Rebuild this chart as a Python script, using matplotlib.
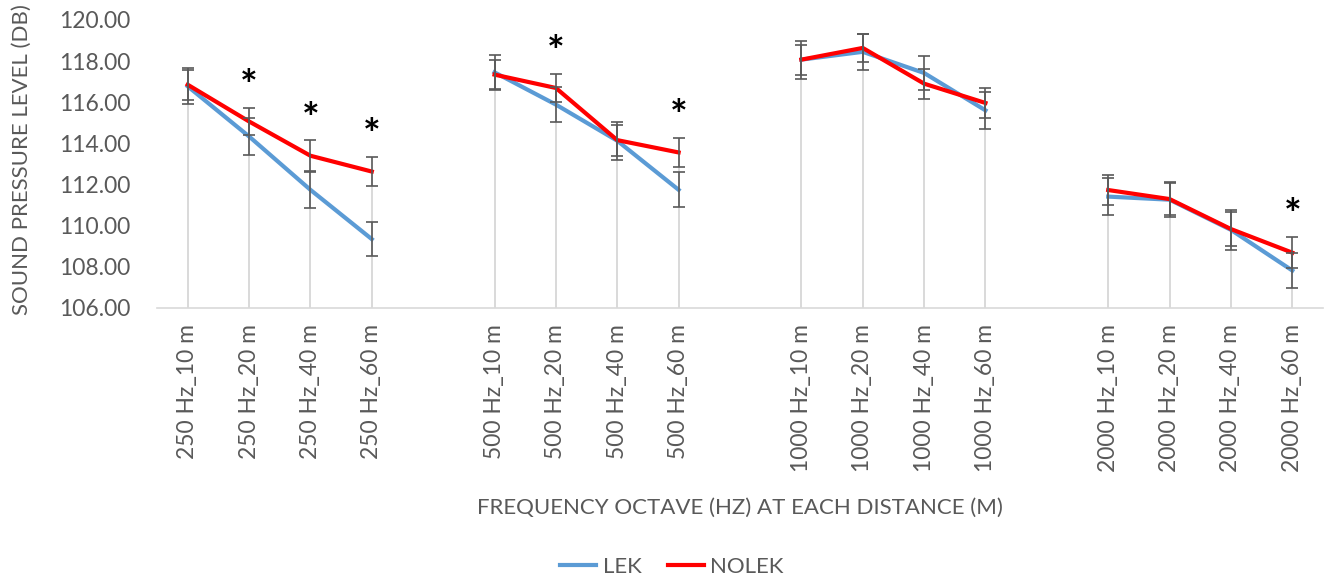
import numpy as np
import matplotlib
matplotlib.use('Agg')
from matplotlib import pyplot as plt

plt.rcParams['font.family'] = ['Lato', 'DejaVu Sans']

groups = ['250 Hz', '500 Hz', '1000 Hz', '2000 Hz']
distances = ['10 m', '20 m', '40 m', '60 m']

lek = [116.77, 114.33, 111.73, 109.33,
       117.45, 115.88, 114.12, 111.73,
       118.07, 118.45, 117.42, 115.60,
       111.40, 111.25, 109.78, 107.80]
lek_err = [0.87, 0.88, 0.87, 0.84,
           0.87, 0.87, 0.92, 0.85,
           0.93, 0.88, 0.83, 0.90,
           0.89, 0.85, 0.98, 0.87]
nolek = [116.85, 115.06, 113.39, 112.62,
         117.34, 116.69, 114.15, 113.55,
         118.07, 118.64, 116.90, 115.96,
         111.72, 111.28, 109.82, 108.67]
nolek_err = [0.73, 0.66, 0.75, 0.72,
             0.70, 0.70, 0.75, 0.72,
             0.73, 0.70, 0.73, 0.73,
             0.74, 0.78, 0.82, 0.77]
# points where LEK and NOLEK differ significantly
signif = ['250 Hz_20 m', '250 Hz_40 m', '250 Hz_60 m',
          '500 Hz_20 m', '500 Hz_60 m', '2000 Hz_60 m']

GREY = '#595959'
BLUE = '#5B9BD5'
RED = '#FF0000'

# one empty slot between frequency groups
labels, pos = [], []
for gi, g in enumerate(groups):
    for di, d in enumerate(distances):
        labels.append('%s_%s' % (g, d))
        pos.append(gi * (len(distances) + 1) + di)
pos = np.array(pos)
n_slots = pos[-1] + 1

def with_gaps(vals):
    full = np.full(n_slots, np.nan)
    full[pos] = vals
    return full

fig = plt.figure(figsize=(13.25, 5.82), dpi=100)
ax = fig.add_axes([157 / 1325, 1 - 307.5 / 582, 1166 / 1325, 287.5 / 582])

x = np.arange(n_slots)
top = np.maximum(lek, nolek)
ax.vlines(pos, 106, top, color='#D9D9D9', lw=1.4, zorder=1)

ax.plot(x, with_gaps(lek), color=BLUE, lw=3, label='LEK', zorder=3,
        solid_joinstyle='round')
ax.plot(x, with_gaps(nolek), color=RED, lw=3, label='NOLEK', zorder=3.5,
        solid_joinstyle='round')
ax.errorbar(pos, lek, yerr=lek_err, fmt='none', ecolor=GREY, elinewidth=1.2,
            capsize=4.5, capthick=1.2, zorder=4)
ax.errorbar(pos, nolek, yerr=nolek_err, fmt='none', ecolor=GREY, elinewidth=1.2,
            capsize=4.5, capthick=1.2, zorder=4)

for lab in signif:
    i = labels.index(lab)
    y = max(lek[i] + lek_err[i], nolek[i] + nolek_err[i])
    ax.text(pos[i], y + 0.95, '*', ha='center', va='center', fontsize=30,
            fontweight='bold', color='black')

ax.set_xlim(-0.5, n_slots - 0.5)
ax.set_ylim(106, 120)
ax.set_yticks(np.arange(106, 120.1, 2))
ax.set_yticklabels(['%.2f' % v for v in np.arange(106, 120.1, 2)])
ax.set_xticks(pos)
ax.set_xticklabels(labels, rotation=90)
ax.tick_params(axis='both', length=0, labelsize=16.5, labelcolor=GREY)
ax.tick_params(axis='x', pad=12)
ax.tick_params(axis='y', pad=19)

for s in ['top', 'right', 'left']:
    ax.spines[s].set_visible(False)
ax.spines['bottom'].set_color('#D9D9D9')
ax.spines['bottom'].set_linewidth(1.2)

fig.text(22 / 1325, 1 - 160 / 582, 'SOUND PRESSURE LEVEL (DB)', rotation=90,
         ha='center', va='center', fontsize=16, color=GREY)
fig.text(740 / 1325, 1 - 508 / 582, 'FREQUENCY OCTAVE (HZ) AT EACH DISTANCE (M)',
         ha='center', va='center', fontsize=16, color=GREY)

fig.legend(loc='center', bbox_to_anchor=(672 / 1325, 1 - 567 / 582), ncol=2,
           frameon=False, fontsize=16, labelcolor=GREY, handlelength=1.6,
           handletextpad=0.3, columnspacing=1.2)

fig.savefig('out.png', dpi=100)
